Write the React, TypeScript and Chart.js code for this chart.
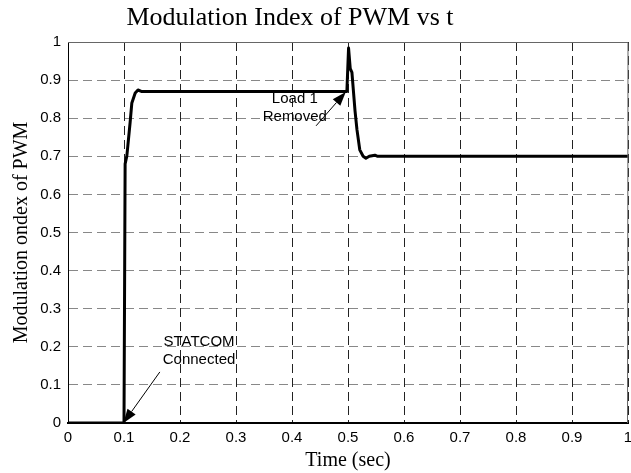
import React, { useEffect, useRef } from "react";
import { Chart, registerables } from "chart.js";

Chart.register(...registerables);

// Modulation index response of the PWM controller over time
const timeSec = [0, 0.1, 0.102, 0.105, 0.111, 0.114, 0.12, 0.125, 0.132, 0.498, 0.501, 0.504, 0.507, 0.5125, 0.516, 0.521, 0.527, 0.532, 0.538, 0.548, 0.553, 1];
const modIndex = [0, 0, 0.68, 0.7, 0.79, 0.84, 0.866, 0.874, 0.87, 0.87, 0.984, 0.93, 0.92, 0.82, 0.77, 0.717, 0.7, 0.695, 0.7, 0.703, 0.7, 0.7];

const xTicks = [0, 0.1, 0.2, 0.3, 0.4, 0.5, 0.6, 0.7, 0.8, 0.9, 1];
const yTicks = [0, 0.1, 0.2, 0.3, 0.4, 0.5, 0.6, 0.7, 0.8, 0.9, 1];

const titleText = "Modulation Index of PWM vs t";
const xTitle = "Time (sec)";
const yTitle = "Modulation ondex of PWM";

// Event callouts: text lines anchored in data units, arrow from tail to head
const callouts = [
  { lines: ["STATCOM", "Connected"], at: { x: 0.234, y: 0.213 }, tail: { x: 0.164, y: 0.134 }, head: { x: 0.099, y: 0.0 } },
  { lines: ["Load 1", "Removed"], at: { x: 0.405, y: 0.85 }, tail: { x: 0.443, y: 0.78 }, head: { x: 0.496, y: 0.869 } },
];

const SERIF = "'Liberation Serif', 'Times New Roman', serif";
const SANS = "'Liberation Sans', Arial, sans-serif";

// Figure title, drawn above the axes box
const titlePlugin = {
  id: "figTitle",
  afterDraw(chart: any) {
    const { ctx } = chart;
    ctx.save();
    ctx.fillStyle = "#000";
    ctx.font = `26px ${SERIF}`;
    ctx.textAlign = "center";
    ctx.textBaseline = "middle";
    ctx.fillText(titleText, 290, 18);
    ctx.restore();
  },
};

const framePlugin = {
  id: "frame",
  afterDatasetsDraw(chart: any) {
    const { ctx, chartArea: a, scales } = chart;
    ctx.save();
    // top and right edges of the axes box
    ctx.strokeStyle = "#666";
    ctx.lineWidth = 1;
    ctx.setLineDash([]);
    ctx.beginPath();
    ctx.moveTo(a.left, a.top + 0.5);
    ctx.lineTo(a.right, a.top + 0.5);
    ctx.lineTo(a.right - 0.5, a.bottom);
    ctx.stroke();

    const xs = scales.x;
    const ys = scales.y;
    ctx.fillStyle = "#000";
    ctx.strokeStyle = "#000";
    ctx.font = `15px ${SANS}`;
    ctx.textAlign = "center";
    ctx.textBaseline = "middle";
    for (const c of callouts) {
      const cx = xs.getPixelForValue(c.at.x);
      const cy = ys.getPixelForValue(c.at.y);
      c.lines.forEach((ln, i) => ctx.fillText(ln, cx, cy + i * 18));
      const x1 = xs.getPixelForValue(c.tail.x);
      const y1 = ys.getPixelForValue(c.tail.y);
      const x2 = xs.getPixelForValue(c.head.x);
      const y2 = ys.getPixelForValue(c.head.y);
      const ang = Math.atan2(y2 - y1, x2 - x1);
      const len = 14;
      const half = 5;
      const bx = x2 - len * Math.cos(ang);
      const by = y2 - len * Math.sin(ang);
      ctx.lineWidth = 1;
      ctx.beginPath();
      ctx.moveTo(x1, y1);
      ctx.lineTo(bx, by);
      ctx.stroke();
      ctx.beginPath();
      ctx.moveTo(x2, y2);
      ctx.lineTo(bx - half * Math.sin(ang), by + half * Math.cos(ang));
      ctx.lineTo(bx + half * Math.sin(ang), by - half * Math.cos(ang));
      ctx.closePath();
      ctx.fill();
    }
    ctx.restore();
  },
};

export default function App() {
  const ref = useRef<HTMLCanvasElement | null>(null);

  useEffect(() => {
    if (!ref.current) return;
    const points = timeSec.map((t, i) => ({ x: t, y: modIndex[i] }));
    const chart = new Chart(ref.current, {
      type: "scatter",
      data: {
        datasets: [
          {
            data: points,
            showLine: true,
            borderColor: "#000",
            borderWidth: 3,
            pointRadius: 0,
            tension: 0,
            borderJoinStyle: "round",
          },
        ],
      },
      options: {
        responsive: false,
        animation: false,
        layout: { padding: { left: 0, right: 3, top: 42, bottom: 0 } },
        plugins: {
          legend: { display: false },
          tooltip: { enabled: false },
          title: { display: false },
        },
        scales: {
          x: {
            type: "linear",
            min: 0,
            max: 1,
            afterBuildTicks: (s: any) => {
              s.ticks = xTicks.map((v) => ({ value: v }));
            },
            afterFit: (s: any) => {
              s.height = 50;
              s.paddingRight = 3;
              s.paddingLeft = 0;
            },
            ticks: {
              color: "#000",
              font: { family: SANS, size: 15 },
              padding: 6,
              maxRotation: 0,
              callback: (v: any) => String(v),
            },
            grid: { color: "#222", lineWidth: 1, drawTicks: false },
            border: { display: true, color: "#000", width: 2, dash: [9, 5] },
            title: {
              display: true,
              text: xTitle,
              color: "#000",
              font: { family: SERIF, size: 20, lineHeight: 1.2 },
              padding: { top: 0, bottom: 0 },
            },
          },
          y: {
            type: "linear",
            min: 0,
            max: 1,
            afterBuildTicks: (s: any) => {
              s.ticks = yTicks.map((v) => ({ value: v }));
            },
            afterFit: (s: any) => {
              s.width = 68;
            },
            ticks: {
              color: "#000",
              font: { family: SANS, size: 15 },
              padding: 7,
              callback: (v: any) => String(v),
            },
            grid: { color: "#888", lineWidth: 1, drawTicks: false },
            border: { display: true, color: "#000", width: 1, dash: [9, 5] },
            title: {
              display: true,
              text: yTitle,
              color: "#000",
              font: { family: SERIF, size: 20, lineHeight: 1.2 },
              padding: { top: 10, bottom: 0 },
            },
          },
        },
      },
      plugins: [framePlugin, titlePlugin],
    });
    return () => chart.destroy();
  }, []);

  return (
    <div style={{ position: "absolute", left: 0, top: 0, width: 631, height: 473, background: "#fff" }}>
      <canvas ref={ref} width={631} height={473} style={{ display: "block" }} />
    </div>
  );
}
